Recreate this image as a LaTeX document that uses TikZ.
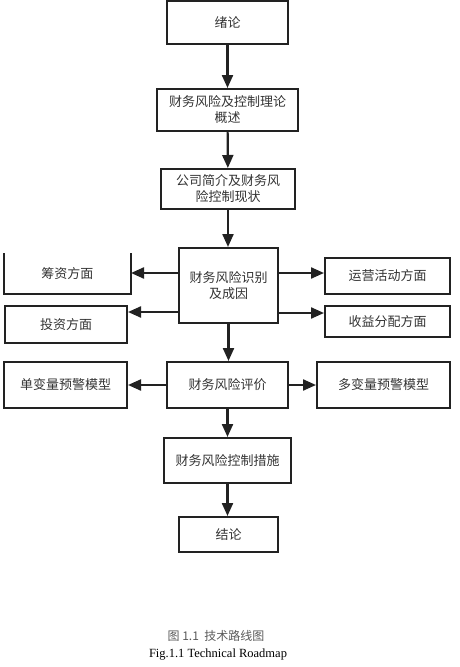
\documentclass[tikz,border=0pt]{standalone}
\usepackage{fontspec}
\setmainfont{Liberation Serif}
\newfontfamily\cjk{Noto Sans CJK SC}
\usetikzlibrary{arrows.meta}
\definecolor{boxline}{HTML}{222222}
\definecolor{boxtext}{HTML}{333333}
\tikzset{
  box/.style={draw=boxline, line width=2pt, text=boxtext, align=center,
    font=\cjk\fontsize{13}{16}\selectfont, inner sep=0pt},
  arr/.style={draw=boxline, line width=2.2pt, -{Triangle[length=13pt,width=11pt]}}
}
\begin{document}
\begin{tikzpicture}[x=1pt,y=-1pt]
\useasboundingbox (0,0) rectangle (460,667);
% main column
\node[box, minimum width=121pt, minimum height=43pt] (intro) at (227.5,22.5) {绪论};
\node[box, minimum width=141pt, minimum height=42pt] (theory) at (227.5,110) {财务风险及控制理论\\概述};
\node[box, minimum width=134pt, minimum height=40pt] (profile) at (228,189) {公司简介及财务风\\险控制现状};
\node[box, minimum width=99pt, minimum height=75pt] (ident) at (228.5,285.5) {财务风险识别\\及成因};
\node[box, minimum width=121pt, minimum height=46pt] (eval) at (227.5,385) {财务风险评价};
\node[box, minimum width=127pt, minimum height=45pt] (measures) at (227.5,460.5) {财务风险控制措施};
\node[box, minimum width=99pt, minimum height=35pt] (concl) at (228.5,534.5) {结论};
% side boxes
\node[box, draw=none, minimum width=125pt, minimum height=39pt] (finance) at (67.5,273.5) {筹资方面};
\draw[boxline, line width=2pt] (finance.north west) -- (finance.south west) -- (finance.south east) -- (finance.north east);
\node[box, minimum width=122pt, minimum height=37pt] (invest) at (66,324.5) {投资方面};
\node[box, minimum width=125pt, minimum height=36pt] (operate) at (387.5,276) {运营活动方面};
\node[box, minimum width=125pt, minimum height=31pt] (profit) at (387.5,321.5) {收益分配方面};
\node[box, minimum width=123pt, minimum height=46pt] (single) at (65.5,385) {单变量预警模型};
\node[box, minimum width=133pt, minimum height=46pt] (multi) at (383.5,385) {多变量预警模型};
% arrows
\draw[arr] (intro) -- (theory);
\draw[arr] (theory) -- (profile);
\draw[arr] (profile.south) -- (profile.south |- ident.north);
\draw[arr] (ident.south) -- (ident.south |- eval.north);
\draw[arr] (eval.south) -- (eval.south |- measures.north);
\draw[arr] (measures.south) -- (measures.south |- concl.north);
\draw[arr] (ident.west |- 0,273) -- (finance.east |- 0,273);
\draw[arr] (ident.west |- 0,312) -- (invest.east |- 0,312);
\draw[arr] (ident.east |- 0,273) -- (operate.west |- 0,273);
\draw[arr] (ident.east |- 0,313) -- (profit.west |- 0,313);
\draw[arr] (eval) -- (single);
\draw[arr] (eval) -- (multi);
% caption
\node[text=black!65, font=\cjk\fontsize{12}{14}\selectfont] (capcn) at (216,636) {图 1.1\ \ 技术路线图};
\node[font=\fontsize{12.5}{14}\selectfont] (capen) at (218,655) {Fig.1.1 Technical Roadmap};
\end{tikzpicture}
\end{document}
